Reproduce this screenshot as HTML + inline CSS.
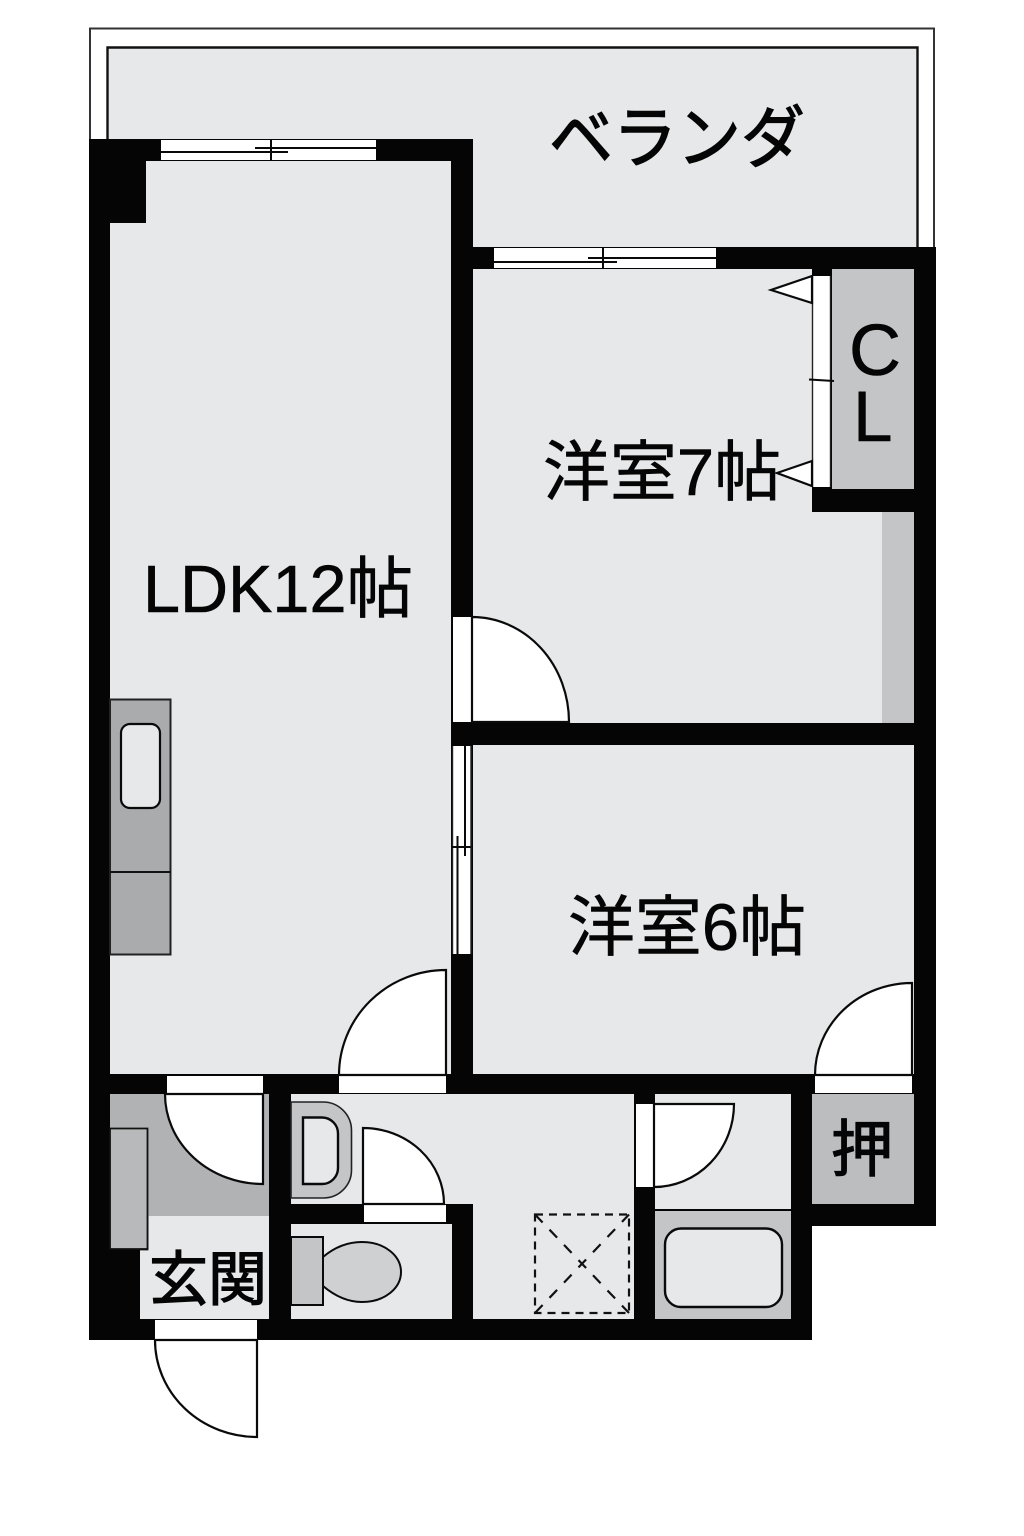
<!DOCTYPE html>
<html lang="ja">
<head>
<meta charset="utf-8">
<title>間取り図</title>
<style>
html,body{margin:0;padding:0;background:#fff;}
svg{display:block;}
text{font-family:"Liberation Sans","Noto Sans CJK JP",sans-serif;fill:#050505;font-weight:400;stroke:#050505;stroke-width:1.300;}
text.t{stroke-width:.6;}
.f{fill:#e7e8e9;}
.w{fill:#fff;}
.l{fill:none;stroke:#0a0a0a;stroke-width:2;}
.d{fill:#fff;stroke:#0a0a0a;stroke-width:2.200;}
</style>
</head>
<body>
<svg xmlns="http://www.w3.org/2000/svg" width="1024" height="1536" viewBox="0 0 1024 1536">
<rect width="1024" height="1536" fill="#fff"/>

<!-- balcony -->
<path d="M90 140V28.500H934V248" fill="none" stroke="#333" stroke-width="2"/>
<rect x="107" y="47" width="811" height="201" class="f"/>
<path d="M107.500 140V47.500H917.500V248" fill="none" stroke="#111" stroke-width="2.400"/>

<!-- walls -->
<path d="M89 139H473V247H936V1226H812V1340H89Z" fill="#050505"/>

<!-- floors -->
<path class="f" d="M146 161H451V1074H110V223H146Z"/>
<rect class="f" x="473" y="269" width="441" height="454"/>
<rect x="882" y="512" width="32" height="211" fill="#c4c5c7"/>
<rect x="812" y="269" width="102" height="243" fill="#050505"/>
<rect x="832" y="269" width="82" height="220" fill="#c4c5c7"/>
<rect class="f" x="473" y="745" width="441" height="329"/>
<rect x="812" y="1094" width="102" height="110" fill="#bcbdbf"/>
<path class="f" d="M291 1094H634V1319H473V1204H291Z"/>
<rect class="f" x="291" y="1224" width="161" height="95"/>
<rect class="f" x="655" y="1094" width="136" height="115"/>
<rect x="655" y="1211" width="136" height="108" fill="#c4c5c7"/>

<!-- genkan -->
<rect x="110" y="1094" width="159" height="122" fill="#b1b2b4"/>
<rect class="f" x="140" y="1216" width="129" height="103"/>
<rect x="110" y="1216" width="30" height="103" fill="#050505"/>
<rect x="110" y="1216" width="30" height="33" fill="#b1b2b4"/>
<path d="M110 1128.500H147.500V1249H110Z" fill="#b8b9bb" stroke="#111" stroke-width="1.800"/>
<rect x="139" y="1217" width="8" height="31" fill="#b8b9bb"/>
<path d="M147.500 1216V1249.500H140" fill="none" stroke="#111" stroke-width="1.800"/>

<!-- top LDK window -->
<rect class="w" x="161" y="140" width="215" height="20"/>
<path d="M161 152H288M255 148H376" class="l"/>
<path d="M271 140V160" class="l"/>

<!-- balcony-side room window -->
<rect class="w" x="494" y="248" width="222" height="20"/>
<path d="M494 262H617M588 258H716M603 248V268" class="l"/>

<!-- closet doors -->
<rect class="w" x="812" y="276" width="18" height="211"/>
<path d="M812.500 276V487M830.500 276V487" stroke="#222" stroke-width="1.400"/>
<path class="d" d="M812 276L771 290L812 303Z"/>
<path class="d" d="M812 461L777 473L812 486Z"/>
<path d="M809 379.500L834 381" class="l"/>

<!-- door LDK to 7 -->
<rect class="w" x="453" y="617" width="18" height="105"/>
<path class="d" d="M472 617A97 105 0 0 1 569 722H472Z"/>

<!-- sliding door -->
<rect class="w" x="452" y="746" width="19" height="208"/>
<path d="M452.500 746V954M471 746V954" stroke="#222" stroke-width="1.400"/>
<path d="M465 746V856M457.500 836V954M452 847H471" class="l"/>

<!-- door LDK bottom -->
<rect class="w" x="339" y="1076" width="107" height="17"/>
<path class="d" d="M446 970A107 105 0 0 0 339 1075H446Z"/>

<!-- door room 6 bottom -->
<rect class="w" x="815" y="1076" width="97" height="17"/>
<path class="d" d="M912 983A97 92 0 0 0 815 1075H912Z"/>

<!-- door genkan top -->
<rect class="w" x="167" y="1076" width="96" height="17"/>
<path class="d" d="M165 1094A98 90 0 0 0 263 1184V1094Z"/>

<!-- entry door -->
<rect class="w" x="155" y="1320" width="102" height="19"/>
<path class="d" d="M155 1340A102 97 0 0 0 257 1437V1340Z"/>

<!-- washroom door -->
<rect class="w" x="364" y="1205" width="82" height="17"/>
<path class="d" d="M363 1128A81 76 0 0 1 444 1204H363Z"/>

<!-- bath door -->
<rect class="w" x="636" y="1104" width="18" height="83"/>
<path class="d" d="M654 1104H734A80 83 0 0 1 654 1187Z"/>

<!-- kitchen -->
<rect x="110" y="699.500" width="60.500" height="255" fill="#a9abad" stroke="#222" stroke-width="2"/>
<path d="M110 872H171" stroke="#111" stroke-width="2"/>
<rect x="121" y="724" width="39" height="84" rx="9" class="f" stroke="#0a0a0a" stroke-width="2.200"/>

<!-- sink D -->
<path d="M291 1102H323A28.500 28.500 0 0 1 351.500 1130.500V1170A28 28 0 0 1 323 1198H291Z" fill="#c4c5c7" stroke="#222" stroke-width="1.600"/>
<path d="M303 1117.500H322A16 16 0 0 1 338 1133.500V1168A16 16 0 0 1 322 1184H303Z" class="f" stroke="#0a0a0a" stroke-width="2.400"/>

<!-- toilet -->
<path d="M323 1257C336 1246 349 1242 362 1242C385 1242 401 1256 401 1272C401 1288 385 1302 362 1302C349 1302 336 1297 323 1286Z" fill="#cfd0d2" stroke="#0a0a0a" stroke-width="2"/>
<rect x="291" y="1237" width="32" height="68" fill="#c4c5c7" stroke="#0a0a0a" stroke-width="2"/>

<!-- bathtub -->
<rect x="665" y="1228.500" width="117" height="78.500" rx="16" class="f" stroke="#0a0a0a" stroke-width="2.400"/>

<!-- dashed hatch -->
<rect x="535" y="1214.500" width="94" height="98.500" fill="none" stroke="#111" stroke-width="2.200" stroke-dasharray="8 6"/>
<path d="M535 1313L629 1214.500M535 1214.500L629 1313" fill="none" stroke="#111" stroke-width="2.200" stroke-dasharray="11 10"/>

<!-- labels -->
<text x="549" y="162" font-size="68" textLength="256" lengthAdjust="spacingAndGlyphs">ベランダ</text>
<text class="t" x="143" y="612" font-size="67" textLength="270" lengthAdjust="spacingAndGlyphs">LDK12帖</text>
<text class="t" x="543" y="495" font-size="66" textLength="238" lengthAdjust="spacingAndGlyphs">洋室7帖</text>
<text class="t" x="568" y="950" font-size="66" textLength="238" lengthAdjust="spacingAndGlyphs">洋室6帖</text>
<text class="t" x="849" y="375" font-size="72">C</text>
<text class="t" x="853" y="441" font-size="71">L</text>
<text x="831" y="1171" font-size="62">押</text>
<text x="149" y="1300" font-size="59" textLength="118" lengthAdjust="spacingAndGlyphs">玄関</text>
</svg>
</body>
</html>
